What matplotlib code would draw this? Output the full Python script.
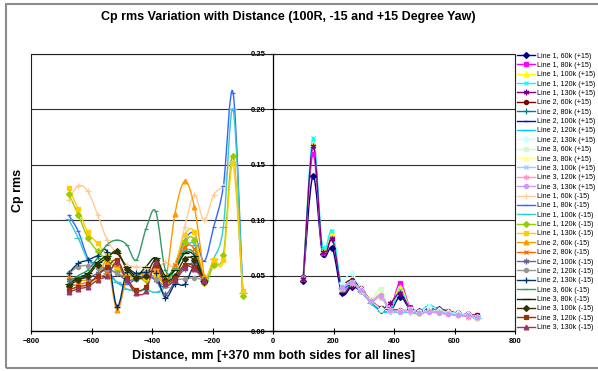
import matplotlib
matplotlib.use('Agg')
import matplotlib.pyplot as plt
import numpy as np
from matplotlib.path import Path
from matplotlib.patches import PathPatch, Rectangle
from matplotlib.lines import Line2D

plt.rcParams['font.family'] = ['Liberation Sans', 'DejaVu Sans']

# ---------------- data ----------------
x_neg_full = [-676, -644, -612, -580, -548, -516, -484, -452, -420, -388,
              -356, -324, -292, -260, -228, -196, -164, -132, -100]
x_neg_short = [-676, -644, -612, -580, -548, -516, -484, -452, -420, -388,
               -356, -324, -292, -260, -228]
x_pos_full = [100, 132, 164, 196, 228, 260, 292, 324, 356, 388,
              420, 452, 484, 516, 548, 580, 612, 644, 676]
x_pos_short = [228, 260, 292, 324, 356, 388, 420, 452, 484, 516,
               548, 580, 612, 644, 676]

# +15 degree yaw
l1_60k_p = [0.045, 0.140, 0.0695, 0.0746, 0.034, 0.040, 0.036, 0.027, 0.019, 0.018, 0.031, 0.020, 0.018, 0.021, 0.020, 0.017, 0.016, 0.015, 0.013]
l1_80k_p = [0.049, 0.160, 0.070, 0.0836, 0.038, 0.042, 0.036, 0.028, 0.021, 0.020, 0.0436, 0.022, 0.018, 0.020, 0.019, 0.017, 0.016, 0.015, 0.014]
l1_100k_p = [0.048, 0.169, 0.073, 0.0887, 0.038, 0.042, 0.036, 0.028, 0.020, 0.019, 0.040, 0.021, 0.017, 0.020, 0.018, 0.017, 0.015, 0.014, 0.013]
l1_120k_p = [0.048, 0.174, 0.0755, 0.0905, 0.038, 0.042, 0.035, 0.027, 0.019, 0.018, 0.037, 0.020, 0.018, 0.023, 0.019, 0.016, 0.015, 0.014, 0.012]
l1_130k_p = [0.047, 0.167, 0.071, 0.0826, 0.037, 0.041, 0.036, 0.027, 0.020, 0.025, 0.034, 0.021, 0.018, 0.021, 0.019, 0.017, 0.016, 0.015, 0.013]
l2_60k_p = [0.041, 0.046, 0.0385, 0.027, 0.0205, 0.019, 0.019, 0.018, 0.017, 0.0205, 0.020, 0.018, 0.016, 0.015, 0.014]
l2_80k_p = [0.038, 0.043, 0.036, 0.026, 0.019, 0.018, 0.018, 0.017, 0.016, 0.019, 0.018, 0.017, 0.016, 0.014, 0.013]
l2_100k_p = [0.037, 0.042, 0.035, 0.026, 0.019, 0.018, 0.018, 0.017, 0.016, 0.021, 0.018, 0.016, 0.015, 0.014, 0.013]
l2_120k_p = [0.039, 0.044, 0.036, 0.025, 0.018, 0.017, 0.017, 0.017, 0.016, 0.023, 0.019, 0.017, 0.015, 0.014, 0.012]
l2_130k_p = [0.043, 0.052, 0.038, 0.027, 0.020, 0.018, 0.018, 0.018, 0.017, 0.022, 0.019, 0.017, 0.016, 0.015, 0.013]
l3_60k_p = [0.040, 0.044, 0.037, 0.028, 0.038, 0.019, 0.018, 0.020, 0.017, 0.019, 0.018, 0.016, 0.015, 0.014, 0.013]
l3_80k_p = [0.039, 0.044, 0.036, 0.028, 0.034, 0.019, 0.018, 0.018, 0.016, 0.018, 0.017, 0.016, 0.014, 0.013, 0.012]
l3_100k_p = [0.038, 0.043, 0.036, 0.027, 0.030, 0.018, 0.017, 0.017, 0.016, 0.018, 0.017, 0.016, 0.014, 0.013, 0.012]
l3_120k_p = [0.039, 0.043, 0.036, 0.027, 0.031, 0.019, 0.018, 0.018, 0.016, 0.018, 0.017, 0.015, 0.014, 0.013, 0.012]
l3_130k_p = [0.040, 0.044, 0.037, 0.027, 0.0325, 0.019, 0.0175, 0.019, 0.016, 0.017, 0.016, 0.015, 0.014, 0.014, 0.013]

# -15 degree yaw
l1_60k_m = [0.118, 0.131, 0.126, 0.105, 0.082, 0.070, 0.060, 0.058, 0.057, 0.056, 0.062, 0.060, 0.094, 0.123, 0.100, 0.123, 0.131, 0.150, 0.035]
l1_80k_m = [0.105, 0.090, 0.066, 0.060, 0.055, 0.044, 0.042, 0.047, 0.050, 0.046, 0.040, 0.060, 0.082, 0.088, 0.063, 0.094, 0.131, 0.215, 0.035]
l1_100k_m = [0.101, 0.084, 0.064, 0.058, 0.052, 0.044, 0.038, 0.036, 0.037, 0.035, 0.040, 0.056, 0.074, 0.078, 0.046, 0.065, 0.094, 0.200, 0.034]
l1_120k_m = [0.124, 0.105, 0.084, 0.072, 0.064, 0.056, 0.050, 0.048, 0.046, 0.050, 0.044, 0.058, 0.080, 0.082, 0.043, 0.060, 0.069, 0.158, 0.032]
l1_130k_m = [0.129, 0.110, 0.089, 0.079, 0.068, 0.058, 0.050, 0.047, 0.048, 0.050, 0.046, 0.060, 0.087, 0.089, 0.048, 0.064, 0.064, 0.152, 0.036]
l2_60k_m = [0.049, 0.046, 0.046, 0.048, 0.062, 0.019, 0.047, 0.050, 0.052, 0.055, 0.046, 0.106, 0.135, 0.112, 0.050]
l2_80k_m = [0.040, 0.042, 0.044, 0.048, 0.052, 0.060, 0.046, 0.036, 0.040, 0.058, 0.045, 0.060, 0.076, 0.074, 0.047]
l2_100k_m = [0.046, 0.048, 0.048, 0.052, 0.056, 0.052, 0.046, 0.047, 0.050, 0.046, 0.033, 0.045, 0.056, 0.061, 0.046]
l2_120k_m = [0.052, 0.058, 0.059, 0.057, 0.056, 0.052, 0.049, 0.050, 0.053, 0.047, 0.041, 0.046, 0.047, 0.048, 0.046]
l2_130k_m = [0.052, 0.061, 0.064, 0.068, 0.071, 0.022, 0.053, 0.052, 0.053, 0.052, 0.030, 0.042, 0.042, 0.058, 0.046]
l3_60k_m = [0.043, 0.050, 0.055, 0.066, 0.078, 0.082, 0.078, 0.064, 0.092, 0.108, 0.055, 0.057, 0.072, 0.070, 0.045]
l3_80k_m = [0.042, 0.048, 0.052, 0.062, 0.068, 0.070, 0.058, 0.050, 0.058, 0.066, 0.050, 0.055, 0.070, 0.068, 0.045]
l3_100k_m = [0.041, 0.046, 0.050, 0.060, 0.066, 0.072, 0.056, 0.048, 0.050, 0.064, 0.046, 0.050, 0.065, 0.064, 0.044]
l3_120k_m = [0.037, 0.040, 0.042, 0.050, 0.058, 0.064, 0.048, 0.037, 0.040, 0.060, 0.044, 0.048, 0.060, 0.058, 0.045]
l3_130k_m = [0.035, 0.038, 0.040, 0.046, 0.050, 0.062, 0.046, 0.034, 0.036, 0.062, 0.042, 0.046, 0.058, 0.056, 0.045]

labels = ['Line 1, 60k (+15)', 'Line 1, 80k (+15)', 'Line 1, 100k (+15)', 'Line 1, 120k (+15)', 'Line 1, 130k (+15)',
          'Line 2, 60k (+15)', 'Line 2, 80k (+15)', 'Line 2, 100k (+15)', 'Line 2, 120k (+15)', 'Line 2, 130k (+15)',
          'Line 3, 60k (+15)', 'Line 3, 80k (+15)', 'Line 3, 100k (+15)', 'Line 3, 120k (+15)', 'Line 3, 130k (+15)',
          'Line 1, 60k (-15)', 'Line 1, 80k (-15)', 'Line 1, 100k (-15)', 'Line 1, 120k (-15)', 'Line 1, 130k (-15)',
          'Line 2, 60k (-15)', 'Line 2, 80k (-15)', 'Line 2, 100k (-15)', 'Line 2, 120k (-15)', 'Line 2, 130k (-15)',
          'Line 3, 60k (-15)', 'Line 3, 80k (-15)', 'Line 3, 100k (-15)', 'Line 3, 120k (-15)', 'Line 3, 130k (-15)']

series = [
    (x_pos_full, l1_60k_p), (x_pos_full, l1_80k_p), (x_pos_full, l1_100k_p), (x_pos_full, l1_120k_p), (x_pos_full, l1_130k_p),
    (x_pos_short, l2_60k_p), (x_pos_short, l2_80k_p), (x_pos_short, l2_100k_p), (x_pos_short, l2_120k_p), (x_pos_short, l2_130k_p),
    (x_pos_short, l3_60k_p), (x_pos_short, l3_80k_p), (x_pos_short, l3_100k_p), (x_pos_short, l3_120k_p), (x_pos_short, l3_130k_p),
    (x_neg_full, l1_60k_m), (x_neg_full, l1_80k_m), (x_neg_full, l1_100k_m), (x_neg_full, l1_120k_m), (x_neg_full, l1_130k_m),
    (x_neg_short, l2_60k_m), (x_neg_short, l2_80k_m), (x_neg_short, l2_100k_m), (x_neg_short, l2_120k_m), (x_neg_short, l2_130k_m),
    (x_neg_short, l3_60k_m), (x_neg_short, l3_80k_m), (x_neg_short, l3_100k_m), (x_neg_short, l3_120k_m), (x_neg_short, l3_130k_m),
]

# ---------------- styles ----------------
colors = ['#000080', '#FF00FF', '#FFFF00', '#00FFFF', '#800080', '#800000', '#008080', '#0000FF',
          '#00CCFF', '#CCFFFF', '#CCFFCC', '#FFFF99', '#99CCFF', '#FF99CC', '#CC99FF', '#FFCC99',
          '#3366FF', '#33CCCC', '#99CC00', '#FFCC00', '#FF9900', '#FF6600', '#666699', '#969696',
          '#003366', '#339966', '#003300', '#333300', '#993300', '#993366']
star = (6, 2, 0)
marker_cycle = [('D', 3.0), ('s', 3.0), ('^', 3.4), ('x', 3.2), (star, 4.0), ('o', 3.0),
                ('+', 4.0), ('_', 3.5), ('_', 5.5)]
markers = [marker_cycle[i % 9] for i in range(30)]


def smooth_path(xs, ys):
    pts = np.column_stack([xs, ys]).astype(float)
    verts = [pts[0]]
    codes = [Path.MOVETO]
    n = len(pts)
    for i in range(n - 1):
        p0 = pts[i - 1] if i > 0 else pts[i]
        p1 = pts[i]
        p2 = pts[i + 1]
        p3 = pts[i + 2] if i + 2 < n else pts[i + 1]
        c1 = p1 + (p2 - p0) / 6.0
        c2 = p2 - (p3 - p1) / 6.0
        verts += [c1, c2, p2]
        codes += [Path.CURVE4] * 3
    return Path(verts, codes)


fig = plt.figure(figsize=(5.98, 3.71), dpi=100)
ax = fig.add_axes([31 / 598, 1 - 331 / 371, (515 - 31) / 598, (331 - 54) / 371])
ax.set_xlim(-800, 800)
ax.set_ylim(0, 0.25)

handles = []
for i, ((xs, ys), lab) in enumerate(zip(series, labels)):
    c = colors[i]
    m, ms = markers[i]
    patch = PathPatch(smooth_path(xs, ys), facecolor='none', edgecolor=c, lw=1.0, zorder=3)
    ax.add_patch(patch)
    ax.plot(xs, ys, linestyle='none', marker=m, markersize=ms, color=c,
            markeredgecolor=c, markeredgewidth=0.9, zorder=4)
    handles.append(Line2D([0], [0], color=c, lw=1.0, marker=m, markersize=ms,
                          markeredgecolor=c, markeredgewidth=0.9))

# axes styling
for s in ['top', 'right', 'bottom', 'left']:
    ax.spines[s].set_visible(False)
ax.spines['left'].set_visible(True)
ax.spines['left'].set_position(('data', 0))
ax.spines['left'].set_color('black')
ax.spines['left'].set_linewidth(0.9)
ax.spines['bottom'].set_visible(True)
ax.spines['bottom'].set_color('black')
ax.spines['bottom'].set_linewidth(0.9)
ax.add_patch(Rectangle((0, 0), 1, 1, transform=ax.transAxes, fill=False,
                       edgecolor='#202020', lw=0.8, zorder=1, clip_on=False))

ax.set_xticks([-800, -600, -400, -200, 0, 200, 400, 600, 800])
ax.set_yticks([0.0, 0.05, 0.10, 0.15, 0.20, 0.25])
ax.set_yticklabels(['0.00', '0.05', '0.10', '0.15', '0.20', '0.25'])
ax.tick_params(axis='both', direction='inout', length=4, width=0.8, labelsize=5.5, pad=3)
for t in ax.get_xticklabels() + ax.get_yticklabels():
    t.set_fontweight('bold')
ax.yaxis.grid(True, color='#303030', lw=0.8, zorder=0)
ax.set_axisbelow(True)

fig.text(288 / 598, 1 - 17 / 371, 'Cp rms Variation with Distance (100R, -15 and +15 Degree Yaw)',
         ha='center', va='center', fontsize=9, fontweight='bold')
fig.text(274 / 598, 1 - 356 / 371, 'Distance, mm [+370 mm both sides for all lines]',
         ha='center', va='center', fontsize=9, fontweight='bold')
fig.text(18 / 598, 1 - 190 / 371, 'Cp rms', rotation=90, ha='center', va='center',
         fontsize=9, fontweight='bold')

fig.legend(handles, labels, loc='upper left', bbox_to_anchor=(517 / 598, 1 - 52.5 / 371),
           frameon=False, fontsize=5.15, labelspacing=0.33, handlelength=2.5,
           handletextpad=0.25, borderaxespad=0, borderpad=0)

fig.patches.append(Rectangle((6 / 598, 3 / 371), 1.0, (368 - 4) / 371, transform=fig.transFigure,
                             fill=False, edgecolor='#8c8c8c', lw=1.5))

fig.savefig('out.png', dpi=100)
